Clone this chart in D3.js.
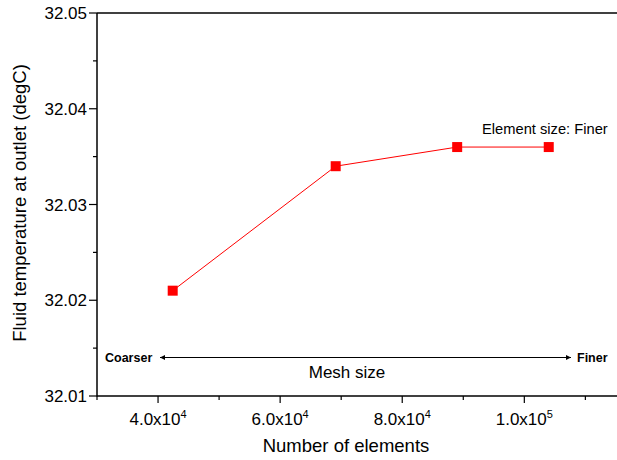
<!DOCTYPE html>
<html>
<head>
<meta charset="utf-8">
<script src="https://cdn.jsdelivr.net/npm/d3@7"></script>
<style>
  body { margin: 0; background: #fff; }
  svg text { font-family: Arial, "Liberation Sans", sans-serif; fill: #000; }
</style>
</head>
<body>
<div id="chart"></div>
<script>
// data
var elements = [42400, 69100, 89000, 104000];
var temperatures = [32.021, 32.034, 32.036, 32.036];
var yTicks = [32.01, 32.02, 32.03, 32.04, 32.05];
var yMinorTicks = [32.015, 32.025, 32.035, 32.045];
var xTicks = [40000, 60000, 80000, 100000];
var xTickLabels = [["4.0x10", "4"], ["6.0x10", "4"], ["8.0x10", "4"], ["1.0x10", "5"]];
var xMinorTicks = [30000, 50000, 70000, 90000, 110000];

var width = 617, height = 460,
    plotLeft = 97, plotTop = 13, plotRight = 622, plotBottom = 396;

var svg = d3.select("#chart").append("svg")
    .attr("width", width)
    .attr("height", height);

var x = d3.scaleLinear().domain([30000, 116000]).range([plotLeft, plotRight]);
var y = d3.scaleLinear().domain([32.01, 32.05]).range([plotBottom, plotTop]);

// frame (top border, right side runs off the page)
svg.append("line")
    .attr("x1", plotLeft).attr("x2", plotRight)
    .attr("y1", plotTop).attr("y2", plotTop)
    .attr("stroke", "#000").attr("stroke-width", 1.5);

// y axis
var yAxis = svg.append("g").attr("transform", "translate(" + plotLeft + ",0)");
yAxis.append("line")
    .attr("x1", 0).attr("x2", 0).attr("y1", plotTop).attr("y2", plotBottom + 0.5)
    .attr("stroke", "#000").attr("stroke-width", 1.5);
yAxis.selectAll(".major").data(yTicks).enter().append("line")
    .attr("x1", -8).attr("x2", 0)
    .attr("y1", function (d) { return y(d); }).attr("y2", function (d) { return y(d); })
    .attr("stroke", "#000").attr("stroke-width", 1.2);
yAxis.selectAll(".minor").data(yMinorTicks).enter().append("line")
    .attr("x1", -4).attr("x2", 0)
    .attr("y1", function (d) { return y(d); }).attr("y2", function (d) { return y(d); })
    .attr("stroke", "#000").attr("stroke-width", 1.2);
yAxis.selectAll("text").data(yTicks).enter().append("text")
    .attr("x", -10)
    .attr("y", function (d) { return y(d) + 6; })
    .attr("text-anchor", "end")
    .style("font-size", "17px")
    .text(function (d) { return d3.format(".2f")(d); });

// x axis
var xAxis = svg.append("g").attr("transform", "translate(0," + plotBottom + ")");
xAxis.append("line")
    .attr("x1", plotLeft).attr("x2", plotRight).attr("y1", 0).attr("y2", 0)
    .attr("stroke", "#000").attr("stroke-width", 1.5);
xAxis.selectAll(".major").data(xTicks).enter().append("line")
    .attr("x1", function (d) { return x(d); }).attr("x2", function (d) { return x(d); })
    .attr("y1", 0).attr("y2", 7)
    .attr("stroke", "#000").attr("stroke-width", 1.2);
xAxis.selectAll(".minor").data(xMinorTicks).enter().append("line")
    .attr("x1", function (d) { return x(d); }).attr("x2", function (d) { return x(d); })
    .attr("y1", 0).attr("y2", 4)
    .attr("stroke", "#000").attr("stroke-width", 1.2);
var xl = xAxis.selectAll(".lbl").data(xTicks).enter().append("text")
    .attr("x", function (d) { return x(d); })
    .attr("y", 29)
    .attr("text-anchor", "middle")
    .style("font-size", "17px");
xl.append("tspan").text(function (d, i) { return xTickLabels[i][0]; });
xl.append("tspan").attr("dy", -7).style("font-size", "11px")
    .text(function (d, i) { return xTickLabels[i][1]; });

// axis titles
svg.append("text")
    .attr("x", 346).attr("y", 452)
    .attr("text-anchor", "middle")
    .style("font-size", "18.5px")
    .text("Number of elements");
svg.append("text")
    .attr("transform", "translate(26,203) rotate(-90)")
    .attr("text-anchor", "middle")
    .style("font-size", "18.5px")
    .text("Fluid temperature at outlet (degC)");

// mesh size arrow
var defs = svg.append("defs");
defs.append("marker").attr("id", "ah")
    .attr("viewBox", "0 0 10 10").attr("refX", 10).attr("refY", 5)
    .attr("markerWidth", 10).attr("markerHeight", 5).attr("markerUnits", "userSpaceOnUse")
    .attr("orient", "auto-start-reverse")
    .append("path").attr("d", "M0,0L10,5L0,10z").attr("fill", "#000");
svg.append("line")
    .attr("x1", 160).attr("x2", 571).attr("y1", 357.5).attr("y2", 357.5)
    .attr("stroke", "#000").attr("stroke-width", 1)
    .attr("marker-start", "url(#ah)").attr("marker-end", "url(#ah)");
svg.append("text").attr("x", 105).attr("y", 362)
    .style("font-size", "12.5px").style("font-weight", "bold").text("Coarser");
svg.append("text").attr("x", 577).attr("y", 362)
    .style("font-size", "12.5px").style("font-weight", "bold").text("Finer");
svg.append("text").attr("x", 347).attr("y", 378)
    .attr("text-anchor", "middle")
    .style("font-size", "17px").text("Mesh size");

svg.append("text").attr("x", 482).attr("y", 134)
    .style("font-size", "14.7px").text("Element size: Finer");

// series
var pts = elements.map(function (d, i) { return [d, temperatures[i]]; });
svg.append("path")
    .datum(pts)
    .attr("fill", "none")
    .attr("stroke", "#ff0000")
    .attr("stroke-width", 1)
    .attr("d", d3.line()
        .x(function (d) { return x(d[0]); })
        .y(function (d) { return y(d[1]); }));
svg.selectAll(".pt").data(pts).enter().append("rect")
    .attr("x", function (d) { return x(d[0]) - 5; })
    .attr("y", function (d) { return y(d[1]) - 5; })
    .attr("width", 10).attr("height", 10)
    .attr("fill", "#ff0000");
</script>
</body>
</html>
